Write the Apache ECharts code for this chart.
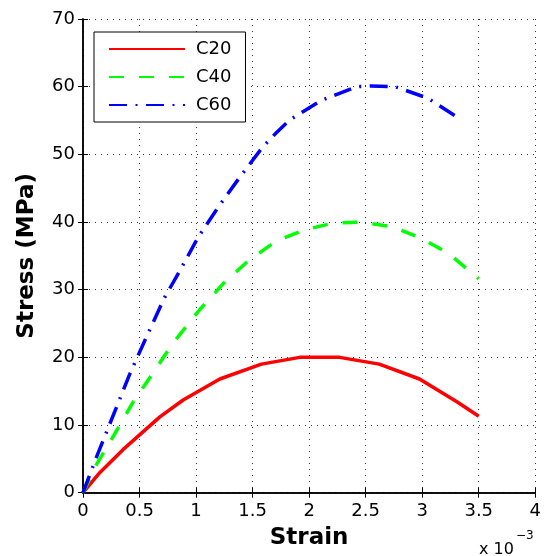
<!DOCTYPE html>
<html>
<head>
<meta charset="utf-8">
<script src="https://cdn.jsdelivr.net/npm/echarts@6/dist/echarts.min.js"></script>
<style>
html,body{margin:0;padding:0;background:#fff;}
#chart{width:544px;height:556px;}
</style>
</head>
<body>
<div id="chart"></div>
<script>
// Strain values are in units of 1e-3 (axis shows "x 10^-3")
const c20Strain = [0, 0.15, 0.356, 0.68, 0.886, 1.21, 1.578, 1.916, 2.27, 2.62, 2.976, 3.31, 3.5];
const c20Stress = [0, 3.0, 6.4, 11.2, 13.7, 16.8, 19.0, 20.0, 20.0, 19.0, 16.8, 13.4, 11.3];

const c40Strain = [0, 0.12, 0.27, 0.44, 0.62, 0.8, 1.03, 1.24, 1.45, 1.7, 1.95, 2.2, 2.45, 2.74, 2.99, 3.23, 3.5];
const c40Stress = [0, 4.2, 8.4, 13.3, 17.7, 22.2, 27.0, 30.9, 34.1, 37.1, 38.8, 39.8, 40.0, 39.3, 37.6, 35.4, 31.6];

const c60Strain = [0, 0.12, 0.3, 0.415, 0.55, 0.72, 0.86, 1.02, 1.2, 1.39, 1.59, 1.71, 1.83, 2.11, 2.42, 2.55, 2.76, 3.05, 3.3];
const c60Stress = [0, 5.3, 12.8, 17.6, 22.6, 28.8, 32.9, 37.8, 42.3, 46.7, 51.1, 53.2, 55.1, 58.0, 60.0, 60.1, 60.0, 58.3, 55.6];

const seriesNames = ['C20', 'C40', 'C60'];
const xTicks = {min: 0, max: 4, interval: 0.5};
const yTicks = {min: 0, max: 70, interval: 10};

const FONT = 'DejaVu Sans';
const zip = (a, b) => a.map((v, i) => [v, b[i]]);

const chart = echarts.init(document.getElementById('chart'), null, {renderer: 'canvas'});
const gridLine = {show: true, lineStyle: {color: '#333', width: 1, type: [1, 5]}};
const tick = {show: true, inside: true, length: 5, lineStyle: {color: '#000', width: 1}};
const axLine = {show: true, lineStyle: {color: '#000', width: 1.5}};

chart.setOption({
  animation: false,
  backgroundColor: '#fff',
  grid: {left: 83, top: 19, right: 8, bottom: 63.3, containLabel: false},
  legend: {
    orient: 'vertical',
    left: 94, top: 32,
    padding: [7, 14, 7, 14],
    itemWidth: 76, itemHeight: 20, itemGap: 8,
    backgroundColor: '#fff',
    borderColor: '#000', borderWidth: 1, borderRadius: 0,
    itemStyle: {opacity: 0},
    textStyle: {fontFamily: FONT, fontSize: 18, color: '#000', padding: [0, 0, 0, 6], lineHeight: 20},
    data: seriesNames
  },
  xAxis: [{
    type: 'value', position: 'bottom',
    min: xTicks.min, max: xTicks.max, interval: xTicks.interval,
    name: 'Strain', nameLocation: 'middle', nameGap: 34,
    nameTextStyle: {fontFamily: FONT, fontSize: 23, fontWeight: 'bold', color: '#000'},
    axisLine: axLine, axisTick: tick,
    axisLabel: {fontFamily: FONT, fontSize: 18, color: '#000', margin: 10},
    splitLine: gridLine
  }, {
    type: 'value', position: 'top',
    min: xTicks.min, max: xTicks.max, interval: xTicks.interval,
    axisLine: axLine, axisTick: tick, axisLabel: {show: false}, splitLine: {show: false}
  }],
  yAxis: [{
    type: 'value', position: 'left',
    min: yTicks.min, max: yTicks.max, interval: yTicks.interval,
    name: 'Stress (MPa)', nameLocation: 'middle', nameGap: 44,
    nameTextStyle: {fontFamily: FONT, fontSize: 23, fontWeight: 'bold', color: '#000'},
    axisLine: axLine, axisTick: tick,
    axisLabel: {fontFamily: FONT, fontSize: 18, color: '#000', margin: 8},
    splitLine: gridLine
  }, {
    type: 'value', position: 'right',
    min: yTicks.min, max: yTicks.max, interval: yTicks.interval,
    axisLine: axLine, axisTick: tick, axisLabel: {show: false}, splitLine: {show: false}
  }],
  graphic: [{
    type: 'text', left: 479, top: 530,
    style: {
      text: '{b|x 10}{s|−3}',
      rich: {
        b: {fontFamily: FONT, fontSize: 16, color: '#000', verticalAlign: 'bottom', padding: [12, 0, 0, 0]},
        s: {fontFamily: FONT, fontSize: 12, color: '#000', verticalAlign: 'top', padding: [0, 0, 0, 2]}
      }
    }
  }],
  series: [{
    name: seriesNames[0], type: 'line', data: zip(c20Strain, c20Stress),
    symbol: 'none', smooth: false,
    lineStyle: {color: '#ff0000', width: 3.5, type: 'solid'},
    itemStyle: {color: '#ff0000'}
  }, {
    name: seriesNames[1], type: 'line', data: zip(c40Strain, c40Stress),
    symbol: 'none', smooth: false,
    lineStyle: {color: '#00ff00', width: 3.5, type: [15, 15]},
    itemStyle: {color: '#00ff00'}
  }, {
    name: seriesNames[2], type: 'line', data: zip(c60Strain, c60Stress),
    symbol: 'none', smooth: false,
    lineStyle: {color: '#0000ff', width: 3.5, type: [18, 8.5, 2, 8.5]},
    itemStyle: {color: '#0000ff'}
  }]
});
</script>
</body>
</html>
